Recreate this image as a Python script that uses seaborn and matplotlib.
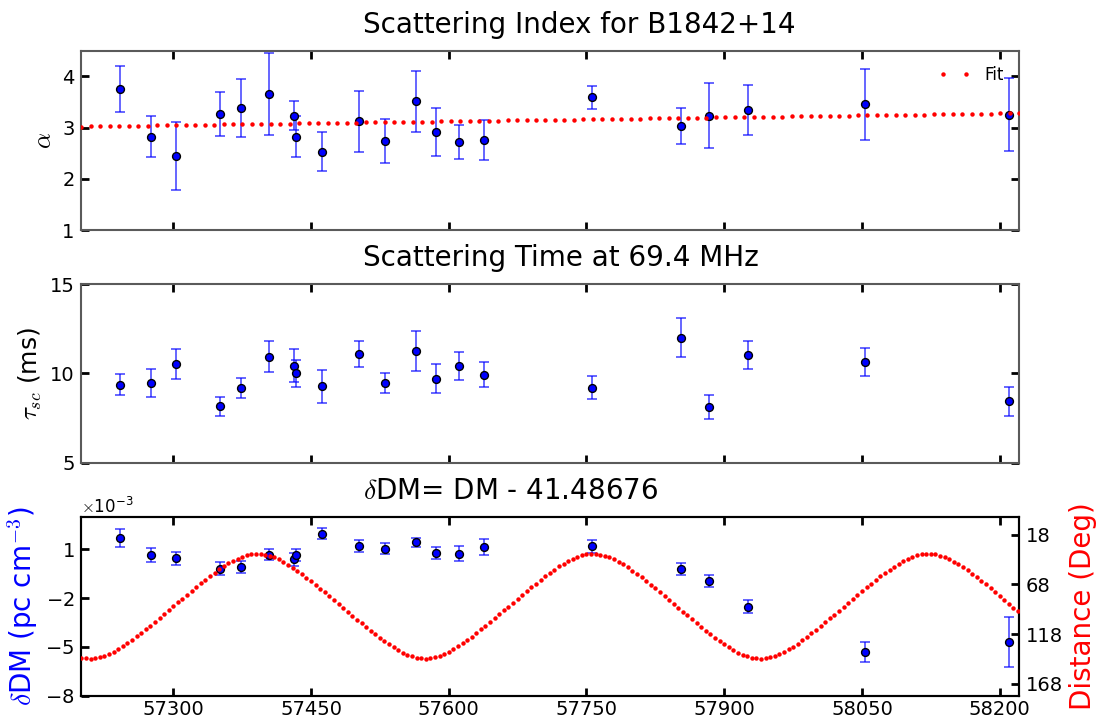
import numpy as np
import matplotlib
matplotlib.use("Agg")
import matplotlib.pyplot as plt
import seaborn as sns
from matplotlib.ticker import ScalarFormatter

# Observation epochs (MJD)
mjd = [57242, 57276, 57303, 57351, 57374, 57404, 57431, 57434, 57462, 57502,
       57531, 57564, 57586, 57611, 57638, 57756, 57853, 57883, 57926, 58053, 58210]

# Scattering index
alpha_idx = [3.75, 2.82, 2.45, 3.26, 3.38, 3.66, 3.23, 2.82, 2.53, 3.12, 2.74,
             3.51, 2.91, 2.72, 2.75, 3.59, 3.03, 3.23, 3.34, 3.45, 3.25]
alpha_err = [0.45, 0.40, 0.66, 0.43, 0.56, 0.80, 0.28, 0.40, 0.38, 0.60, 0.43,
             0.59, 0.47, 0.33, 0.39, 0.23, 0.35, 0.63, 0.49, 0.70, 0.71]

# Scattering time at 69.4 MHz (ms)
tau_sc = [9.35, 9.48, 10.53, 8.15, 9.18, 10.92, 10.43, 10.00, 9.27, 11.08, 9.44,
          11.25, 9.70, 10.43, 9.93, 9.20, 11.98, 8.12, 11.05, 10.65, 8.43]
tau_err = [0.59, 0.79, 0.85, 0.51, 0.54, 0.87, 0.91, 0.76, 0.92, 0.72, 0.56,
           1.13, 0.81, 0.79, 0.69, 0.65, 1.09, 0.67, 0.78, 0.78, 0.83]

# DM offsets in units of 1e-3 pc cm^-3
ddm = [1.70, 0.65, 0.44, -0.20, -0.11, 0.67, 0.38, 0.63, 1.95, 1.19, 1.04,
       1.43, 0.77, 0.73, 1.12, 1.17, -0.24, -0.97, -2.54, -5.34, -4.69]
ddm_err = [0.55, 0.43, 0.41, 0.39, 0.38, 0.36, 0.38, 0.36, 0.35, 0.36, 0.36,
           0.29, 0.39, 0.44, 0.50, 0.40, 0.37, 0.36, 0.40, 0.61, 1.54]

# Linear fit of the scattering index: alpha = fit_a0 + fit_slope * (MJD - fit_mjd0)
fit_mjd0 = 57200.0
fit_a0 = 3.02
fit_slope = 2.55e-4

# Pulsar ecliptic latitude (deg) and MJD of closest solar approach
ecl_lat = 37.3
mjd_conj = 57391.5

x_lim = (57200, 58221)
x_ticks = [57300, 57450, 57600, 57750, 57900, 58050, 58200]

sns.set_theme(style="white")
plt.rcParams["font.family"] = ["DejaVu Sans"]
plt.rcParams["mathtext.fontset"] = "cm"
for key in ("text.color", "axes.labelcolor", "xtick.color", "ytick.color",
            "xtick.labelcolor", "ytick.labelcolor"):
    plt.rcParams[key] = "black"

SPINE = "#5a5a5a"
TITLE_X = 0.30

fig = plt.figure(figsize=(11.01, 7.19), dpi=100)
L, W = 0.074, 0.8515
ax1 = fig.add_axes([L, 0.6801, W, 0.2494])
ax2 = fig.add_axes([L, 0.3565, W, 0.2485])
ax3 = fig.add_axes([L, 0.0324, W, 0.2490])


def style_axes(ax, spine_color=SPINE, right=True):
    for s in ax.spines.values():
        s.set_color(spine_color)
        s.set_linewidth(1.5)
    ax.tick_params(which="major", direction="in", length=6, width=2,
                   color="black", labelsize=14,
                   top=True, bottom=True, left=True, right=right)
    ax.tick_params(axis="x", pad=3)
    ax.tick_params(axis="y", pad=5)
    ax.set_xlim(*x_lim)
    ax.set_xticks(x_ticks)


def draw_points(ax, y, err):
    ax.errorbar(mjd, y, yerr=err, fmt="none", ecolor="blue", elinewidth=1.3,
                capsize=3.5, capthick=1.3, alpha=0.65, zorder=2)
    sns.scatterplot(x=mjd, y=y, ax=ax, color="blue", edgecolor="black",
                    linewidth=1.0, s=32, zorder=3, legend=False)


def panel_title(ax, text):
    ax.set_title(text, loc="left", x=TITLE_X, fontsize=20, pad=13)


# --- Scattering index ---
draw_points(ax1, alpha_idx, alpha_err)
fit_x = np.linspace(x_lim[0], x_lim[1], 100)
fit_y = fit_a0 + fit_slope * (fit_x - fit_mjd0)
ax1.plot(fit_x, fit_y, "o", color="red", ms=3.2, mew=0, label="Fit", zorder=4)
ax1.legend(loc="upper right", numpoints=2, frameon=False, fontsize=12,
           handletextpad=0.8)
style_axes(ax1)
ax1.set_ylim(1, 4.5)
ax1.set_yticks([1, 2, 3, 4])
ax1.set_xticklabels([])
ax1.set_ylabel(r"$\alpha$", fontsize=18)
panel_title(ax1, "Scattering Index for B1842+14")

# --- Scattering time ---
draw_points(ax2, tau_sc, tau_err)
style_axes(ax2)
ax2.set_ylim(5, 15)
ax2.set_yticks([5, 10, 15])
ax2.set_xticklabels([])
ax2.set_ylabel(r"$\tau_{sc}$ (ms)", fontsize=18)
panel_title(ax2, "Scattering Time at 69.4 MHz")

# --- DM variations and solar elongation ---
ddm_val = [v * 1e-3 for v in ddm]
ddm_e = [v * 1e-3 for v in ddm_err]
draw_points(ax3, ddm_val, ddm_e)
style_axes(ax3, spine_color="black", right=False)
ax3.set_ylim(-0.008, 0.003)
ax3.set_yticks([-0.008, -0.005, -0.002, 0.001])
fmt = ScalarFormatter(useMathText=True)
fmt.set_powerlimits((-3, -3))
ax3.yaxis.set_major_formatter(fmt)
ax3.yaxis.get_offset_text().set_fontsize(12)
ax3.set_xticklabels([str(t) for t in x_ticks])
ax3.set_ylabel(r"$\delta$DM (pc cm$^{-3}$)", fontsize=20, color="blue")
panel_title(ax3, r"$\delta$DM= DM - 41.48676")

ax3b = ax3.twinx()
el_x = np.arange(57200, 58226, 5.0)
phase = 2 * np.pi * (el_x - mjd_conj) / 365.25
elong = np.degrees(np.arccos(np.cos(np.radians(ecl_lat)) * np.cos(phase)))
ax3b.plot(el_x, elong, "o", color="red", ms=3.2, mew=0, zorder=4)
ax3b.set_ylim(180, 0)
ax3b.set_yticks([18, 68, 118, 168])
for s in ax3b.spines.values():
    s.set_color("black")
    s.set_linewidth(1.5)
ax3b.tick_params(axis="y", direction="in", length=6, width=2, color="black",
                 labelsize=14, pad=5, right=True, left=False)
ax3b.set_ylabel("Distance (Deg)", fontsize=20, color="red")
ax3b.set_xlim(*x_lim)

fig.savefig("out.png", dpi=100)
